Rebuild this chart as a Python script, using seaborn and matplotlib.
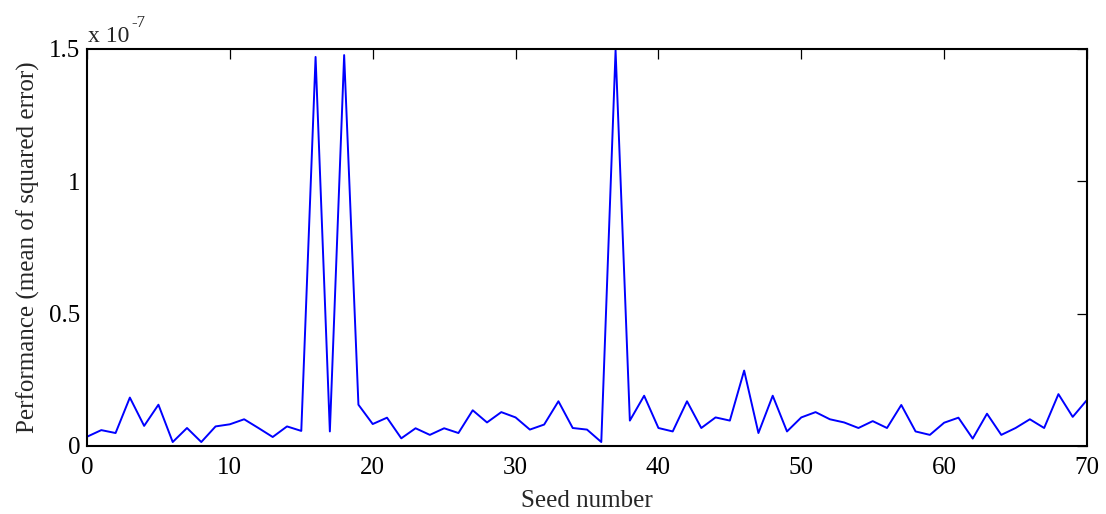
import numpy as np
import pandas as pd
import matplotlib
matplotlib.use("Agg")
import matplotlib.pyplot as plt
from matplotlib.ticker import FuncFormatter
import seaborn as sns

seeds = list(range(71))
# performance values in units of 1e-7
perf_e7 = [0.035, 0.060, 0.049, 0.183, 0.076, 0.156, 0.015, 0.068, 0.015, 0.074,
           0.082, 0.101, 0.068, 0.034, 0.074, 0.057, 1.470, 0.055, 1.477, 0.156,
           0.083, 0.107, 0.029, 0.067, 0.042, 0.067, 0.049, 0.135, 0.089, 0.128,
           0.108, 0.062, 0.081, 0.169, 0.068, 0.062, 0.015, 1.495, 0.096, 0.190,
           0.068, 0.055, 0.169, 0.068, 0.108, 0.096, 0.285, 0.049, 0.190, 0.055,
           0.108, 0.128, 0.101, 0.089, 0.068, 0.094, 0.068, 0.155, 0.055, 0.042,
           0.088, 0.107, 0.028, 0.122, 0.042, 0.068, 0.101, 0.068, 0.196, 0.110,
           0.174]
y_ticks = [0, 0.5, 1.0, 1.5]
x_ticks = [0, 10, 20, 30, 40, 50, 60, 70]

df = pd.DataFrame({"seed": seeds, "perf": np.array(perf_e7) * 1e-7})

sns.set_style("white")
plt.rcParams["font.family"] = ["Liberation Serif", "DejaVu Serif"]

fig = plt.figure(figsize=(11.06, 5.14), dpi=100)
ax = fig.add_axes([87 / 1106, 68 / 514, 1000 / 1106, 397 / 514])
sns.lineplot(data=df, x="seed", y="perf", ax=ax, color=(0, 0, 1), linewidth=1.4)

ax.set_xlim(0, 70)
ax.set_ylim(0, 1.5e-7)
ax.set_xticks(x_ticks)
ax.set_yticks([v * 1e-7 for v in y_ticks])
ax.yaxis.set_major_formatter(FuncFormatter(lambda v, p: f"{v / 1e-7:g}"))
ax.tick_params(direction="in", length=7, width=0.9, top=True, right=True,
               labelsize=18, colors="black")
ax.tick_params(axis="x", pad=8)
ax.tick_params(axis="y", pad=5)
for s in ax.spines.values():
    s.set_linewidth(1.5)
    s.set_color("black")
ax.set_xlabel("Seed number", fontsize=18, labelpad=8)
ax.set_ylabel("Performance (mean of squared error)", fontsize=18, labelpad=6)
ax.text(0.001, 1.006, "x 10", transform=ax.transAxes, fontsize=17,
        ha="left", va="bottom")
ax.text(0.044, 1.045, "-7", transform=ax.transAxes, fontsize=12,
        ha="left", va="bottom")

fig.savefig("out.png", dpi=100)
